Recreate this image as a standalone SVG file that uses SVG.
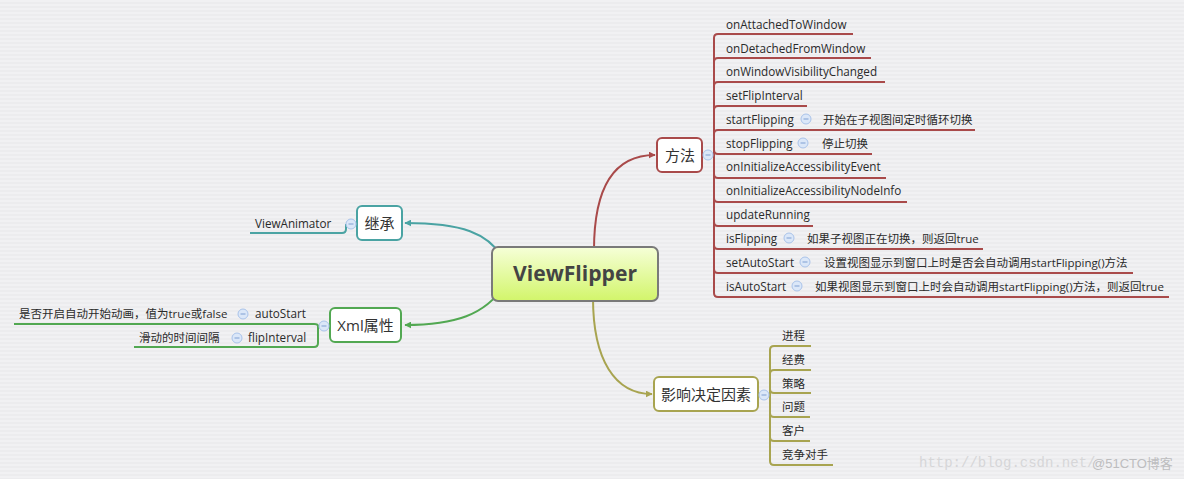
<svg xmlns="http://www.w3.org/2000/svg" width="1184" height="479" viewBox="0 0 1184 479">
<defs>
<pattern id="bg" width="4" height="4" patternUnits="userSpaceOnUse">
<rect width="4" height="4" fill="#f1f1f3"/>
<rect y="2" width="4" height="2" fill="#ececee"/>
</pattern>
<linearGradient id="cg" x1="0" y1="0" x2="0" y2="1">
<stop offset="0" stop-color="#f6ffd8"/>
<stop offset="1" stop-color="#d2f56a"/>
</linearGradient>
<marker id="aR" viewBox="0 0 10 10" refX="9" refY="5" markerWidth="7" markerHeight="7" markerUnits="userSpaceOnUse" orient="auto"><path d="M0,0 L10,5 L0,10 z" fill="#a94a4a"/></marker>
<marker id="aT" viewBox="0 0 10 10" refX="9" refY="5" markerWidth="7" markerHeight="7" markerUnits="userSpaceOnUse" orient="auto"><path d="M0,0 L10,5 L0,10 z" fill="#4aa3a3"/></marker>
<marker id="aG" viewBox="0 0 10 10" refX="9" refY="5" markerWidth="7" markerHeight="7" markerUnits="userSpaceOnUse" orient="auto"><path d="M0,0 L10,5 L0,10 z" fill="#52a852"/></marker>
<marker id="aO" viewBox="0 0 10 10" refX="9" refY="5" markerWidth="7" markerHeight="7" markerUnits="userSpaceOnUse" orient="auto"><path d="M0,0 L10,5 L0,10 z" fill="#a8a450"/></marker>
<g id="minus"><circle r="5" fill="#dbe7f8" stroke="#a9c3ea" stroke-width="1"/><line x1="-2.5" y1="0" x2="2.5" y2="0" stroke="#7f9fd2" stroke-width="1"/></g>
</defs>
<style>
.t{font-family:"Open Sans","Noto Sans CJK SC",sans-serif;font-size:11.7px;fill:#2a2a2a}
.c{font-family:"Open Sans","Noto Sans CJK SC",sans-serif;font-size:11.5px;fill:#2a2a2a}
.n{font-family:"Open Sans","Noto Sans CJK SC",sans-serif;font-size:15px;fill:#333;text-anchor:middle}
.ln{fill:none;stroke-width:2}
.r{stroke:#a94a4a}.tl{stroke:#4aa3a3}.g{stroke:#52a852}.o{stroke:#a8a450}
.box{fill:#fff;stroke-width:2}
</style>
<rect width="1184" height="479" fill="url(#bg)"/>

<g id="connectors">
<path class="ln r" d="M594,250 C594,185 615,155 655,155" marker-end="url(#aR)"/>
<path class="ln tl" d="M505,262 C490,232 460,223 405,223" marker-end="url(#aT)"/>
<path class="ln g" d="M505,285 C485,315 455,325 405,325" marker-end="url(#aG)"/>
<path class="ln o" d="M593,298 C593,360 615,394 652,394" marker-end="url(#aO)"/>
<!-- methods bracket -->
<g class="ln r">
<path d="M713,155 L714,155 L714,38 Q714,34 718,34 L853,34"/>
<path d="M714,62 Q714,58 718,58 L871,58"/>
<path d="M714,86 Q714,82 718,82 L885,82"/>
<path d="M714,110 Q714,106 718,106 L807,106"/>
<path d="M714,134 Q714,130 718,130 L975,130"/>
<path d="M714,150 Q714,154 718,154 L872,154"/>
<path d="M714,174 Q714,178 718,178 L886,178"/>
<path d="M714,198 Q714,202 718,202 L907,202"/>
<path d="M714,222 Q714,226 718,226 L813,226"/>
<path d="M714,245 Q714,249 718,249 L983,249"/>
<path d="M714,269 Q714,273 718,273 L1133,273"/>
<path d="M714,155 L714,293 Q714,297 718,297 L1169,297"/>
</g>
<!-- inheritance -->
<path class="ln tl" d="M250,233 L342,233 Q346,233 346,229 L346,224"/>
<!-- xml -->
<g class="ln g">
<path d="M14,324 L314,324 Q318,324 318,326 L320,326"/>
<path d="M134,347 L314,347 Q318,347 318,343 L318,326"/>
</g>
<!-- factors -->
<g class="ln o">
<path d="M769,395 L770,395 L770,350 Q770,346 774,346 L811,346"/>
<path d="M770,374 Q770,370 774,370 L811,370"/>
<path d="M770,389 Q770,393 774,393 L811,393"/>
<path d="M770,413 Q770,417 774,417 L810,417"/>
<path d="M770,437 Q770,441 774,441 L810,441"/>
<path d="M770,395 L770,461 Q770,465 774,465 L833,465"/>
</g>
</g>

<g id="center">
<rect x="492" y="247" width="166" height="54" rx="6" fill="url(#cg)" stroke="#7a7a7a" stroke-width="2"/>
<text x="575" y="281" text-anchor="middle" font-family="'Open Sans',sans-serif" font-weight="bold" font-size="22" fill="#444" textLength="124" lengthAdjust="spacingAndGlyphs">ViewFlipper</text>
</g>

<g id="methods">
<rect class="box r" x="657" y="138" width="45" height="34" rx="5"/>
<text class="n" x="680" y="161">方法</text>
<use href="#minus" x="708" y="155"/>
</g>
<g id="m-onAttachedToWindow"><text class="t" x="726" y="29">onAttachedToWindow</text></g>
<g id="m-onDetachedFromWindow"><text class="t" x="726" y="53">onDetachedFromWindow</text></g>
<g id="m-onWindowVisibilityChanged"><text class="t" x="726" y="76">onWindowVisibilityChanged</text></g>
<g id="m-setFlipInterval"><text class="t" x="726" y="100">setFlipInterval</text></g>
<g id="m-startFlipping"><text class="t" x="726" y="124">startFlipping</text><use href="#minus" x="806" y="119"/><text class="c" x="823" y="124">开始在子视图间定时循环切换</text></g>
<g id="m-stopFlipping"><text class="t" x="726" y="148">stopFlipping</text><use href="#minus" x="803" y="143"/><text class="c" x="822" y="148">停止切换</text></g>
<g id="m-onInitializeAccessibilityEvent"><text class="t" x="726" y="171">onInitializeAccessibilityEvent</text></g>
<g id="m-onInitializeAccessibilityNodeInfo"><text class="t" x="726" y="195">onInitializeAccessibilityNodeInfo</text></g>
<g id="m-updateRunning"><text class="t" x="726" y="219">updateRunning</text></g>
<g id="m-isFlipping"><text class="t" x="726" y="243">isFlipping</text><use href="#minus" x="789" y="238"/><text class="c" x="807" y="243">如果子视图正在切换，则返回true</text></g>
<g id="m-setAutoStart"><text class="t" x="726" y="267">setAutoStart</text><use href="#minus" x="805" y="262"/><text class="c" x="824" y="267">设置视图显示到窗口上时是否会自动调用startFlipping()方法</text></g>
<g id="m-isAutoStart"><text class="t" x="726" y="291">isAutoStart</text><use href="#minus" x="797" y="286"/><text class="c" x="815" y="291">如果视图显示到窗口上时会自动调用startFlipping()方法，则返回true</text></g>

<g id="inherit">
<rect class="box tl" x="357" y="206" width="45" height="34" rx="5"/>
<text class="n" x="379.5" y="229">继承</text>
<use href="#minus" x="351" y="224"/>
</g>
<g id="i-ViewAnimator"><text class="t" x="255" y="228">ViewAnimator</text></g>

<g id="xml">
<rect class="box g" x="330" y="308" width="71" height="34" rx="5"/>
<text class="n" x="365.5" y="331">Xml属性</text>
<use href="#minus" x="324" y="326"/>
</g>
<g id="x-autoStart"><text class="c" x="19" y="318">是否开启自动开始动画，值为true或false</text><use href="#minus" x="243" y="314"/><text class="t" x="255" y="318">autoStart</text></g>
<g id="x-flipInterval"><text class="c" x="139" y="342">滑动的时间间隔</text><use href="#minus" x="237" y="338"/><text class="t" x="248" y="342">flipInterval</text></g>

<g id="factors">
<rect class="box o" x="654" y="377" width="104" height="34" rx="5"/>
<text class="n" x="706" y="400">影响决定因素</text>
<use href="#minus" x="764" y="395"/>
</g>
<g id="f-1"><text class="c" x="782" y="340">进程</text></g>
<g id="f-2"><text class="c" x="782" y="364">经费</text></g>
<g id="f-3"><text class="c" x="782" y="388">策略</text></g>
<g id="f-4"><text class="c" x="782" y="411">问题</text></g>
<g id="f-5"><text class="c" x="782" y="435">客户</text></g>
<g id="f-6"><text class="c" x="782" y="459">竞争对手</text></g>

<text x="919" y="467" font-family="'Liberation Mono',monospace" font-size="14" fill="#d6d6d8">http://blog.csdn.net/</text>
<text x="1092" y="468" font-family="'Liberation Sans','Noto Sans CJK SC',sans-serif" font-size="13" fill="#bdbdbf">@51CTO博客</text>
</svg>
